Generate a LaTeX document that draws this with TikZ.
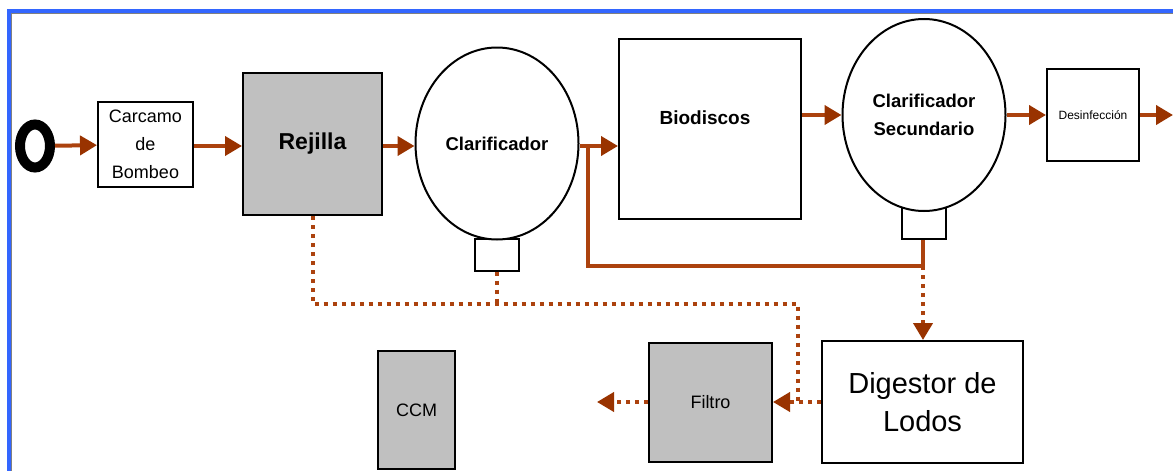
\documentclass[tikz,border=0pt]{standalone}
\usepackage{fontspec}
\setmainfont{Liberation Sans}
\usetikzlibrary{positioning,arrows.meta,shapes.geometric,backgrounds}

\definecolor{cafe}{RGB}{172,66,14}
\definecolor{punta}{RGB}{153,51,0}
\definecolor{grisclaro}{RGB}{192,192,192}
\definecolor{marco}{RGB}{51,102,255}

\begin{document}
\begin{tikzpicture}[
		x=1pt, y=-1pt,
		every node/.style={
				draw,
				line width=2pt,
				inner sep=0pt,
				align=center
			},
		caja/.style={rectangle, fill=white},
		cajagris/.style={rectangle, fill=grisclaro},
		tanque/.style={
				ellipse,
				fill=white,
				minimum width=163pt,
				minimum height=192pt,
				font=\bfseries\fontsize{18.5}{28}\selectfont
			},
		flujo/.style={draw=cafe, line width=4pt,
				-{Triangle[length=17pt,width=19pt,color=punta]}},
		lodo/.style={flujo, dash pattern=on 4pt off 5pt}
	]

	\useasboundingbox (0,0) rectangle (1173,471);

	% marco azul
	\draw[marco, line width=4pt] (8.5,490) -- (8.5,11) -- (1190,11);
	\draw[gray, line width=1.5pt] (11.5,490) -- (11.5,13.5) -- (1190,13.5);

	\node (entrada) [ellipse, line width=10pt,
		minimum width=30pt, minimum height=43pt] at (35,146) {};

	\node (carcamo) [caja, minimum width=95pt, minimum height=85pt,
		font=\fontsize{18}{28}\selectfont] at (145.5,144.5)
	{Carcamo\\de\\Bombeo};

	\node (rejilla) [cajagris, minimum width=139pt, minimum height=142pt,
		font=\bfseries\fontsize{23}{28}\selectfont] at (312.5,144)
	{Rejilla};

	\node (clar) [tanque] at (497,143.5) {Clarificador};

	\node (bio) [caja, minimum width=182pt, minimum height=180pt,
		label={[draw=none, xshift=-5pt, yshift=11pt,
						font=\bfseries\fontsize{19}{22}\selectfont]center:Biodiscos}]
	at (710,129) {};

	\node (clarsec) [tanque] at (924,115) {Clarificador\\Secundario};

	\node (desinf) [caja, minimum width=92pt, minimum height=92pt,
		font=\fontsize{12}{14}\selectfont] at (1093,115)
	{Desinfección};

	\begin{scope}[on background layer]
		\node (clarcaja) [caja, below=-3pt of clar,
			minimum width=44pt, minimum height=32pt] {};
		\node (clarseccaja) [caja, below=-6pt of clarsec,
			minimum width=44pt, minimum height=32pt] {};
	\end{scope}

	\node (digestor) [caja, minimum width=201pt, minimum height=122pt,
		font=\fontsize{29}{38}\selectfont] at (922.5,402)
	{Digestor de\\Lodos};

	\node (filtro) [cajagris, minimum width=123pt, minimum height=119pt,
		font=\fontsize{18}{22}\selectfont] at (710.5,402)
	{Filtro};

	\node (ccm) [cajagris, minimum width=77pt, minimum height=118pt,
		font=\fontsize{18}{22}\selectfont] at (416.5,410)
	{CCM};

	\coordinate (ramal) at (588,146);
	\coordinate (retorno) at (923,266);
	\coordinate (salida) at (1173,115);
	\coordinate (codo) at (798,304);
	\coordinate (union) at (798,402);
	\coordinate (descarga) at (597,402);

	% linea principal
	\draw[flujo] (entrada) -- (carcamo);
	\draw[flujo] (carcamo.east |- entrada) -- (rejilla.west |- entrada);
	\draw[flujo] (rejilla.east |- entrada) -- (clar.west |- entrada);
	\draw[flujo] (clar.east |- ramal) -- (bio.west |- ramal);
	\draw[flujo] (bio.east |- clarsec) -- (clarsec.west);
	\draw[flujo] (clarsec) -- (desinf);
	\draw[flujo] (desinf) -- (salida);
	\draw[flujo, -] (ramal) |- (retorno) -- (retorno |- clarseccaja.south);

	% lodos
	\draw[lodo] (retorno) -- (retorno |- digestor.north);
	\draw[lodo, -] (rejilla.south) |- (codo) -- (union);
	\draw[lodo, -] (clarcaja.south) -- (clarcaja.south |- codo);
	\draw[lodo] (digestor.west) -- (filtro.east);
	\draw[lodo] (filtro.west) -- (descarga);

\end{tikzpicture}
\end{document}
